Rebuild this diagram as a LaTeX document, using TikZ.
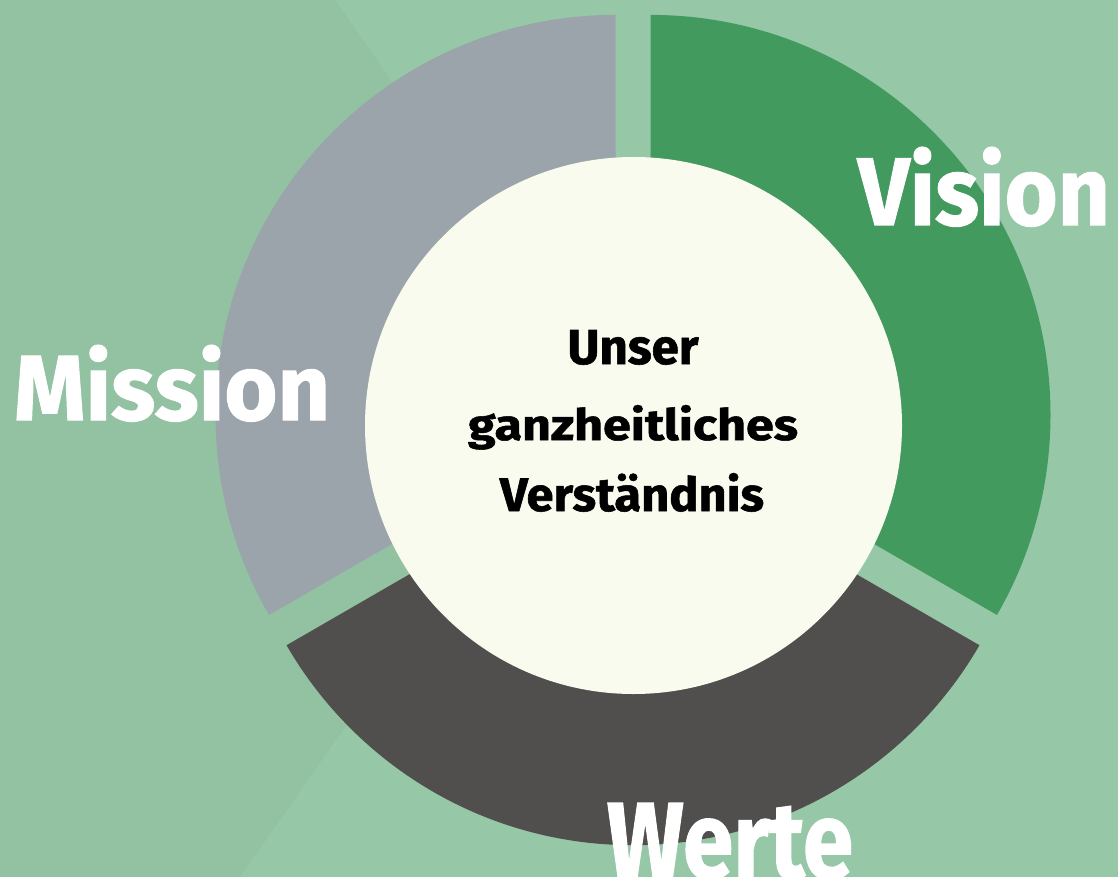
\documentclass[tikz,border=0pt]{standalone}
\usepackage{fontspec}
\setmainfont{Fira Sans}
\newfontfamily\heavy{Fira Sans}[BoldFeatures={FakeBold=1.2}]
\usepackage{graphicx}
\definecolor{bglight}{HTML}{96C8A7}
\definecolor{bgdark}{HTML}{92C2A1}
\definecolor{seggreen}{HTML}{439A5E}
\definecolor{seggray}{HTML}{9BA3AB}
\definecolor{segdark}{HTML}{504F4D}
\definecolor{creamfill}{HTML}{FAFBEF}
\newcommand{\fitword}[3]{\resizebox{#1pt}{#2pt}{\heavy\bfseries #3}}
\tikzset{
  bigword/.style={inner sep=0pt, outer sep=0pt, anchor=base, text=white},
  centerword/.style={inner sep=0pt, outer sep=0pt, anchor=base, text=black},
}
\begin{document}
\begin{tikzpicture}[x=1pt,y=-1pt]
\useasboundingbox (0,0) rectangle (1118,877);
\clip (0,0) rectangle (1118,877);
\fill[bglight] (0,0) rectangle (1118,877);
\fill[bgdark] (0,0) -- (335,0) -- (595,371) -- (240,877) -- (0,877) -- cycle;
% exploded slice centres
\coordinate (cg) at (650.5,414.9);
\coordinate (cm) at (615.5,414.9);
\coordinate (cw) at (633,445.2);
% green segment (Vision)
\begin{scope}
  \clip (cg) -- (650.5,-1000) -- (2400,-1000) -- (2382.5,1414.9) -- cycle;
  \fill[seggreen] (cg) circle[radius=400];
\end{scope}
% gray segment (Mission)
\begin{scope}
  \clip (cm) -- (615.5,-1000) -- (-1200,-1000) -- (-1116.5,1414.9) -- cycle;
  \fill[seggray] (cm) circle[radius=400];
\end{scope}
% dark segment (Werte)
\begin{scope}
  \clip (cw) -- (-1099,1445.2) -- (633,3000) -- (2365,1445.2) -- cycle;
  \fill[segdark] (cw) circle[radius=400];
\end{scope}
% centre disc
\fill[creamfill] (633.5,425.5) circle[radius=268.5];
% labels
\node[bigword] (vision) at (984,225) {\fitword{252}{78}{Vision}};
\node[bigword] (mission) at (172,420) {\fitword{316}{75}{Mission}};
\node[bigword] (werte) at (730,878) {\fitword{246}{75}{Werte}};
\node[centerword] (l1) at (633,364) {\fitword{131}{34}{Unser}};
\node[centerword] (l2) at (633,440) {\fitword{330}{35}{ganzheitliches}};
\node[centerword] (l3) at (632,511) {\fitword{264}{38}{Verständnis}};
\end{tikzpicture}
\end{document}
